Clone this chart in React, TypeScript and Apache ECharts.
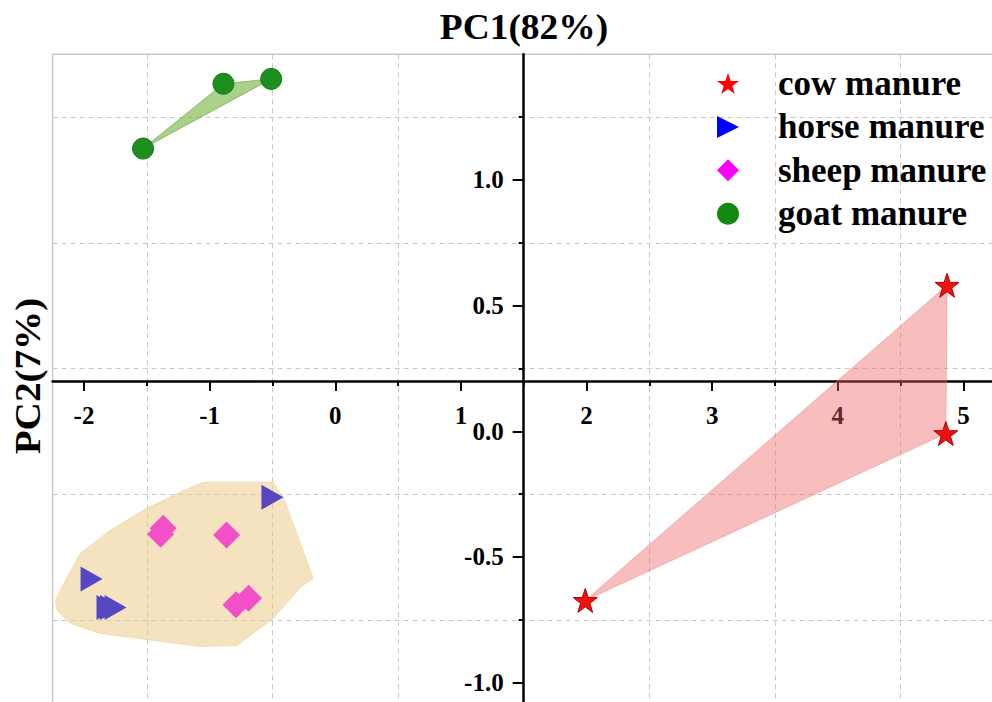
import React, { useEffect, useRef } from "react";
import * as echarts from "echarts";

// ---- data ----
const seriesNames = ["cow manure", "horse manure", "sheep manure", "goat manure"];
const xTickValues = [-2, -1, 0, 1, 2, 3, 4, 5];
const yTickValues = [-1, -0.5, 0, 0.5, 1];

const cowManure = [
  [1.99, -0.673],
  [4.87, 0.581],
  [4.86, -0.009],
];
const horseManure = [
  [-0.5, -0.262],
  [-1.94, -0.588],
  [-1.813, -0.701],
  [-1.785, -0.701],
  [-1.749, -0.701],
];
const sheepManure = [
  [-1.37, -0.386],
  [-1.39, -0.41],
  [-0.865, -0.413],
  [-0.79, -0.69],
  [-0.69, -0.664],
];
const goatManure = [
  [-1.53, 1.125],
  [-0.89, 1.383],
  [-0.51, 1.402],
];

// hull outlines
const cowHull = [
  [1.99, -0.673],
  [4.87, 0.581],
  [4.86, -0.009],
];
const goatHull = [
  [-1.53, 1.125],
  [-0.89, 1.383],
  [-0.51, 1.402],
];
const horseSheepHull = [
  [-1.051, -0.203],
  [-0.494, -0.203],
  [-0.414, -0.263],
  [-0.175, -0.585],
  [-0.279, -0.621],
  [-0.494, -0.744],
  [-0.78, -0.852],
  [-1.075, -0.856],
  [-1.871, -0.804],
  [-2.11, -0.764],
  [-2.213, -0.713],
  [-2.229, -0.673],
  [-2.134, -0.581],
  [-2.03, -0.486],
  [-1.791, -0.394],
  [-1.529, -0.314],
  [-1.258, -0.247],
];

const STAR =
  "path://M50,2 L61.8,36.2 L97.6,36.2 L68.6,57.6 L79.4,92 L50,71 L20.6,92 L31.4,57.6 L2.4,36.2 L38.2,36.2 Z";
const TRI = "path://M0,0 L10,5 L0,10 Z";

const FONT = "Liberation Serif";

function hullSeries(name: string, pts: number[][], fill: string, stroke: string) {
  return {
    type: "custom",
    name,
    silent: true,
    z: 1,
    data: [pts[0]],
    renderItem: (_params: any, api: any) => ({
      type: "polygon",
      shape: { points: pts.map((p) => api.coord(p)) },
      style: { fill, stroke, lineWidth: 1 },
    }),
  };
}

export default function App() {
  const ref = useRef<HTMLDivElement>(null);
  useEffect(() => {
    if (!ref.current) return;
    const chart = echarts.init(ref.current, undefined, { renderer: "svg" });
    const labelFont = {
      fontFamily: FONT,
      fontWeight: "bold" as const,
      fontSize: 25,
      color: "#000",
    };
    const option: any = {
      animation: false,
      backgroundColor: "#fff",
      grid: {
        left: 52.6,
        top: 54.3,
        width: 942.2,
        height: 691.2,
        show: true,
        borderColor: "#c8c8c8",
        borderWidth: 1.5,
        backgroundColor: "transparent",
        containLabel: false,
        outerBoundsMode: "none",
      },
      graphic: [
        {
          type: "text",
          x: 524,
          y: 27,
          scaleX: 1.07,
          style: {
            text: "PC1(82%)",
            fontFamily: FONT,
            fontWeight: "bold",
            fontSize: 35,
            fill: "#000",
            align: "center",
            verticalAlign: "middle",
          },
        },
        {
          type: "text",
          x: 28.5,
          y: 376,
          rotation: Math.PI / 2,
          scaleX: 1.12,
          style: {
            text: "PC2(7%)",
            fontFamily: FONT,
            fontWeight: "bold",
            fontSize: 35,
            fill: "#000",
            align: "center",
            verticalAlign: "middle",
          },
        },
      ],
      legend: {
        orient: "vertical",
        left: 717,
        top: 66,
        padding: 0,
        itemWidth: 22,
        itemHeight: 22,
        itemGap: 8.4,
        selectedMode: false,
        textStyle: {
          fontFamily: FONT,
          fontWeight: "bold",
          fontSize: 35,
          lineHeight: 35,
          color: "#000",
          padding: [0, 0, 0, 34],
        },
        data: [
          { name: seriesNames[0], icon: STAR, itemStyle: { color: "#ff0000", borderWidth: 0, opacity: 1 } },
          { name: seriesNames[1], icon: TRI, itemStyle: { color: "#0000ff", borderWidth: 0, opacity: 1 } },
          { name: seriesNames[2], icon: "diamond", itemStyle: { color: "#ff00ff", borderWidth: 0, opacity: 1 } },
          { name: seriesNames[3], icon: "circle", itemStyle: { color: "#118811", borderWidth: 0, opacity: 1 } },
        ],
      },
      xAxis: {
        type: "value",
        min: -2.25,
        max: 5.25,
        splitNumber: 8,
        position: "bottom",
        offset: -364.5,
        axisLine: { show: true, onZero: false, lineStyle: { color: "#000", width: 2.5 } },
        axisTick: {
          show: true,
          customValues: xTickValues,
          length: 10,
          inside: false,
          lineStyle: { color: "#000", width: 2 },
        },
        axisLabel: { customValues: xTickValues, margin: 22, ...labelFont },
        minorTick: { show: true, splitNumber: 2, length: 5, lineStyle: { color: "#000", width: 2 } },
        splitLine: { show: false },
        minorSplitLine: { show: true, lineStyle: { color: "#c8c8c8", type: [5, 4], width: 1 } },
      },
      yAxis: {
        type: "value",
        min: -1.25,
        max: 1.5,
        splitNumber: 6,
        position: "left",
        offset: -471.1,
        axisLine: { show: true, onZero: false, lineStyle: { color: "#000", width: 2.5 } },
        axisTick: {
          show: true,
          customValues: yTickValues,
          length: 11,
          inside: false,
          lineStyle: { color: "#000", width: 2 },
        },
        axisLabel: {
          customValues: yTickValues,
          margin: 20,
          formatter: (v: number) => v.toFixed(1),
          ...labelFont,
        },
        minorTick: { show: true, splitNumber: 2, length: 5, lineStyle: { color: "#000", width: 2 } },
        splitLine: { show: false },
        minorSplitLine: { show: true, lineStyle: { color: "#c8c8c8", type: [5, 4], width: 1 } },
      },
      series: [
        hullSeries("cowHull", cowHull, "rgba(238,100,100,0.42)", "rgba(235,130,130,0.5)"),
        hullSeries("goatHull", goatHull, "rgba(100,170,40,0.55)", "rgba(90,160,40,0.6)"),
        hullSeries("horseSheepHull", horseSheepHull, "rgba(235,200,130,0.5)", "rgba(235,200,130,0.5)"),
        {
          type: "scatter",
          name: seriesNames[0],
          data: cowManure,
          symbol: STAR,
          symbolSize: 24,
          z: 3,
          itemStyle: { color: "#ee1111", borderColor: "#b00000", borderWidth: 1, opacity: 1 },
        },
        {
          type: "scatter",
          name: seriesNames[1],
          data: horseManure,
          symbol: TRI,
          symbolSize: [22, 25],
          z: 3,
          itemStyle: { color: "#5646c2", opacity: 1 },
        },
        {
          type: "scatter",
          name: seriesNames[2],
          data: sheepManure,
          symbol: "diamond",
          symbolSize: 27,
          z: 3,
          itemStyle: { color: "#f250c8", opacity: 1 },
        },
        {
          type: "scatter",
          name: seriesNames[3],
          data: goatManure,
          symbol: "circle",
          symbolSize: 21,
          z: 3,
          itemStyle: { color: "#1e8f1e", borderColor: "#0f7a0f", borderWidth: 1, opacity: 1 },
        },
      ],
    };
    chart.setOption(option);
    return () => chart.dispose();
  }, []);
  return (
    <div
      ref={ref}
      style={{ position: "absolute", left: 0, top: 0, width: 992, height: 702 }}
    />
  );
}
